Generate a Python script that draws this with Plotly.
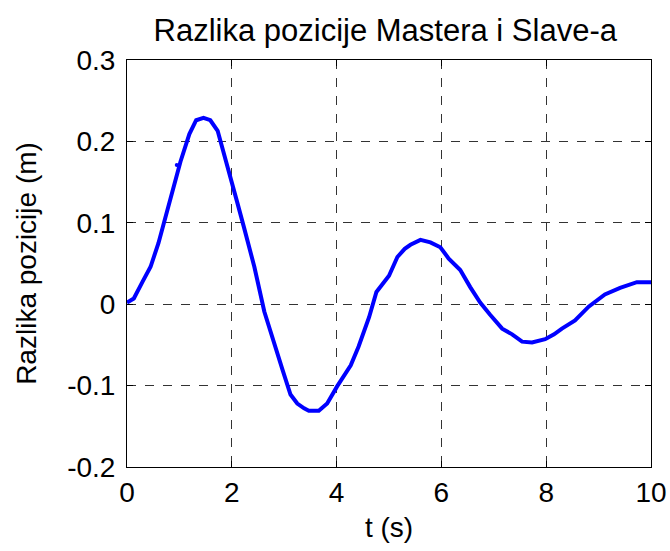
import plotly.graph_objects as go

# Position difference between master and slave over time
t = [0.0, 0.13, 0.30, 0.45, 0.60, 0.74, 0.88, 1.02, 1.19, 1.32, 1.46, 1.59, 1.73,
     1.85, 1.98, 2.10, 2.23, 2.43, 2.62, 2.84, 2.97, 3.12, 3.25, 3.38, 3.47, 3.66,
     3.82, 4.01, 4.15, 4.27, 4.42, 4.62, 4.76, 5.00, 5.16, 5.30, 5.41, 5.60, 5.79,
     5.98, 6.14, 6.36, 6.55, 6.74, 6.93, 7.16, 7.35, 7.54, 7.73, 7.98, 8.15, 8.30,
     8.55, 8.81, 9.12, 9.41, 9.73, 10.0]
diff = [0.002, 0.007, 0.028, 0.046, 0.075, 0.107, 0.140, 0.175, 0.209, 0.226, 0.229, 0.226, 0.213,
        0.186, 0.156, 0.126, 0.095, 0.046, -0.009, -0.052, -0.081, -0.111, -0.122, -0.128, -0.131, -0.131,
        -0.122, -0.101, -0.088, -0.075, -0.052, -0.016, 0.015, 0.035, 0.058, 0.068, 0.073, 0.079, 0.076,
        0.070, 0.056, 0.042, 0.021, 0.002, -0.013, -0.030, -0.037, -0.046, -0.047, -0.043, -0.037, -0.030,
        -0.020, -0.003, 0.012, 0.020, 0.027, 0.027]

# Stray sample point just left of the rising edge
dot_t = [0.95]
dot_y = [0.171]

x_ticks = [0, 2, 4, 6, 8, 10]
y_ticks = [-0.2, -0.1, 0, 0.1, 0.2, 0.3]
y_labels = ["-0.2", "-0.1", "0", "0.1", "0.2", "0.3"]

fig = go.Figure()
fig.add_trace(go.Scatter(x=t, y=diff, mode="lines",
                         line=dict(color="#0000ff", width=4), showlegend=False))
fig.add_trace(go.Scatter(x=dot_t, y=dot_y, mode="markers",
                         marker=dict(color="#0000ff", size=4), showlegend=False))

font = "Liberation Sans, Arial, sans-serif"
axis_common = dict(
    showline=True, linecolor="black", linewidth=1, mirror="ticks",
    ticks="inside", ticklen=6, tickcolor="black", automargin=False,
    showgrid=True, gridcolor="#333333", griddash="dash", gridwidth=1,
    zeroline=False, tickfont=dict(family=font, size=28, color="black"),
)

fig.update_layout(
    width=670, height=551,
    margin=dict(l=127, r=19, t=60, b=84),
    paper_bgcolor="white", plot_bgcolor="white",
    title=dict(text="Razlika pozicije Mastera i Slave-a", x=0.575, xanchor="center",
               y=0.945, yanchor="middle",
               font=dict(family=font, size=31, color="black")),
    xaxis=dict(range=[0, 10], tickvals=x_ticks,
               title=dict(text="t (s)", font=dict(family=font, size=28, color="black"), standoff=10),
               **axis_common),
    yaxis=dict(range=[-0.2, 0.3], tickvals=y_ticks, ticktext=y_labels, ticklabelstandoff=5,
               title=dict(text="Razlika pozicije (m)", font=dict(family=font, size=28, color="black"), standoff=22),
               **axis_common),
)

fig.write_html("out.html")
